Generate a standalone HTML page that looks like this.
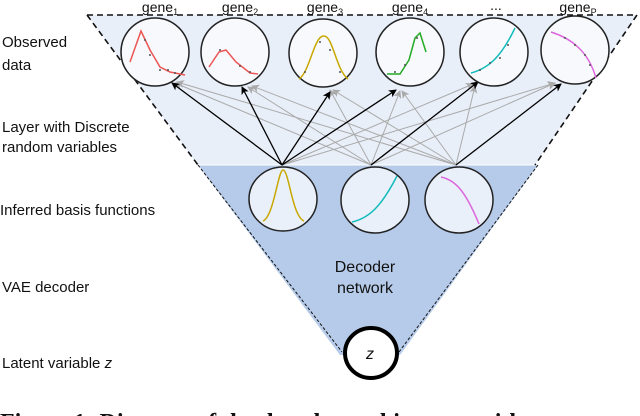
<!DOCTYPE html>
<html><head><meta charset="utf-8"><style>
html,body{margin:0;padding:0;background:#fff;}
svg{display:block;}
text{font-family:"Liberation Sans",sans-serif;fill:#111;}
</style></head><body>
<svg width="640" height="416" viewBox="0 0 640 416" xmlns="http://www.w3.org/2000/svg">
<defs>
<marker id="ab" markerWidth="8" markerHeight="8" refX="7" refY="4" orient="auto" markerUnits="userSpaceOnUse"><path d="M0,0 L8,4 L0,8 L2,4 z" fill="#000"/></marker>
<marker id="ag" markerWidth="8" markerHeight="8" refX="7" refY="4" orient="auto" markerUnits="userSpaceOnUse"><path d="M0,0 L8,4 L0,8 L2,4 z" fill="#aaa"/></marker>
</defs>
<polygon points="87,15 637,15 535,165 198,165" fill="#e9eff9"/>
<polygon points="198,165 538,165 400,355 340,355" fill="#b6cbe9"/>
<line x1="198" y1="165" x2="538" y2="165" stroke="#fff" stroke-width="1"/>
<path d="M87,15 L637,15 L535,165" fill="none" stroke="#111" stroke-width="1.6" stroke-dasharray="6,4"/>
<line x1="87" y1="15" x2="198" y2="165" stroke="#111" stroke-width="1.6" stroke-dasharray="6,4"/>
<line x1="198" y1="165" x2="342" y2="352" stroke="#111" stroke-width="1" stroke-dasharray="3,2"/>
<line x1="538" y1="165" x2="399" y2="352" stroke="#111" stroke-width="1" stroke-dasharray="3,2"/>
<g stroke="#aaa" stroke-width="1" fill="none" marker-end="url(#ag)">
<line x1="282" y1="165" x2="473" y2="84"/><line x1="282" y1="165" x2="555" y2="83"/>
<line x1="371" y1="165" x2="175" y2="83"/><line x1="371" y1="165" x2="248" y2="87"/><line x1="371" y1="165" x2="330" y2="90"/><line x1="371" y1="165" x2="400" y2="91"/>
<line x1="371" y1="165" x2="555" y2="83"/>
<line x1="456" y1="165" x2="177" y2="82"/><line x1="456" y1="165" x2="252" y2="86"/><line x1="456" y1="165" x2="333" y2="90"/><line x1="456" y1="165" x2="402" y2="91"/><line x1="456" y1="165" x2="475" y2="86"/>
</g>
<g stroke="#000" stroke-width="1.3" fill="none" marker-end="url(#ab)">
<line x1="282" y1="165" x2="172" y2="83"/><line x1="282" y1="165" x2="242" y2="87"/><line x1="282" y1="165" x2="330" y2="92"/><line x1="282" y1="165" x2="396" y2="90"/>
<line x1="371" y1="165" x2="478" y2="82"/><line x1="456" y1="165" x2="561" y2="84"/>
</g>
<g fill="#f7f9fd" stroke="#222" stroke-width="1.5">
<circle cx="155" cy="52" r="34"/><circle cx="235" cy="52" r="34"/><circle cx="323" cy="53" r="34"/>
<circle cx="410" cy="52" r="34"/><circle cx="494" cy="52" r="34"/><circle cx="575" cy="50" r="34"/>
</g>
<g fill="none" stroke-width="1.5">
<path d="M130,62 L141,31 L150,50 L160,67 L170,72 L185,75" stroke="#e55"/>
<path d="M209,67 L219,52 L226,50 L236,62 L250,73 L258,74" stroke="#e55"/>
<path d="M299,79 C310,72 314,35 324,36 C333,36 336,70 348,79" stroke="#c8a800"/>
<path d="M387,74 L400,74 L409,60 L415,38 L420,33 L426,52" stroke="#2a2"/>
<path d="M471,73 C490,68 502,55 515,28" stroke="#1bb"/>
<path d="M551,32 C570,38 588,50 596,78" stroke="#d6d"/>
</g>
<g fill="#555">
<circle cx="145" cy="40" r="1"/><circle cx="150" cy="55" r="1"/><circle cx="160" cy="70" r="1"/><circle cx="175" cy="73" r="1"/><circle cx="168" cy="70" r="1"/>
<circle cx="220" cy="50" r="1"/><circle cx="240" cy="66" r="1"/><circle cx="250" cy="72" r="1"/>
<circle cx="320" cy="42" r="1"/><circle cx="330" cy="50" r="1"/><circle cx="340" cy="72" r="1"/><circle cx="305" cy="72" r="1"/>
<circle cx="405" cy="65" r="1"/><circle cx="395" cy="72" r="1"/><circle cx="417" cy="38" r="1"/>
<circle cx="490" cy="63" r="1"/><circle cx="500" cy="58" r="1"/><circle cx="480" cy="70" r="1"/><circle cx="508" cy="45" r="1"/>
<circle cx="565" cy="38" r="1"/><circle cx="575" cy="45" r="1"/><circle cx="585" cy="55" r="1"/><circle cx="590" cy="65" r="1"/>
</g>
<g fill="#eaf0fa" stroke="#222" stroke-width="1.5">
<ellipse cx="283" cy="199" rx="34" ry="32"/><ellipse cx="375" cy="200" rx="34" ry="33"/><ellipse cx="459" cy="200" rx="34" ry="33"/>
</g>
<g fill="none" stroke-width="1.5">
<path d="M263,221 C274,216 278,170 283,170 C289,170 292,216 304,221" stroke="#c8a800"/>
<path d="M352,222 C370,218 382,205 397,176" stroke="#1bb"/>
<path d="M441,177 C455,180 465,190 479,224" stroke="#d6d"/>
</g>
<ellipse cx="371" cy="353" rx="26" ry="25" fill="#fff" stroke="#000" stroke-width="4"/>
<text x="370" y="359" font-size="16" font-style="italic" text-anchor="middle">z</text>
<g font-size="15">
<text x="2" y="47">Observed</text><text x="2" y="70">data</text>
<text x="2" y="132">Layer with Discrete</text><text x="2" y="152">random variables</text>
<text x="0" y="215">Inferred basis functions</text>
<text x="2" y="292">VAE decoder</text>
<text x="2" y="368">Latent variable <tspan font-style="italic">z</tspan></text>
<text x="365" y="272" text-anchor="middle" font-size="16">Decoder</text><text x="365" y="293" text-anchor="middle" font-size="16">network</text>
</g>
<g font-size="14" text-anchor="middle">
<text x="160" y="12">gene<tspan font-size="9" dy="3">1</tspan></text>
<text x="240" y="12">gene<tspan font-size="9" dy="3">2</tspan></text>
<text x="325" y="12">gene<tspan font-size="9" dy="3">3</tspan></text>
<text x="410" y="12">gene<tspan font-size="9" dy="3">4</tspan></text>
<text x="496" y="10">...</text>
<text x="578" y="12">gene<tspan font-size="9" dy="3">P</tspan></text>
</g>
<text x="0" y="430" font-size="24" font-weight="bold" style="font-family:'Liberation Serif',serif">Figure 1: Diagram of the decoder architecture with</text>
</svg>
</body></html>
